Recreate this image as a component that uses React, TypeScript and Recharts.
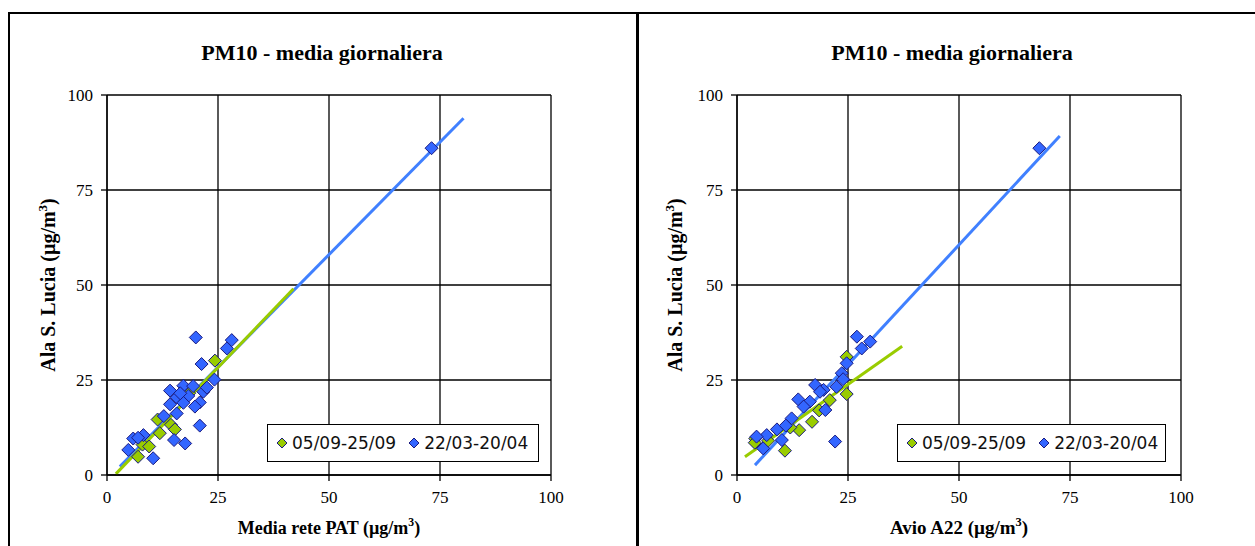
import React from 'react';
import { ScatterChart, Scatter, XAxis, YAxis, CartesianGrid, ReferenceLine, Legend, Label } from 'recharts';

const axisTicks = [0, 25, 50, 75, 100];
const seriesNames = ['05/09-25/09', '22/03-20/04'];
const chartTitle = 'PM10 - media giornaliera';
const yTitle = 'Ala S. Lucia (µg/m';
const leftXTitle = 'Media rete PAT (µg/m';
const rightXTitle = 'Avio A22 (µg/m';

// Left chart: Media rete PAT vs Ala S. Lucia
const patSep: [number, number][] = [
  [24.3, 30.1], [11.4, 14.6], [14.4, 13.2], [15.3, 12.0], [11.9, 11.0],
  [7.0, 4.8], [8.0, 8.0], [18.5, 21.5], [9.5, 7.5],
];
const patMar: [number, number][] = [
  [73.1, 86.0], [20.0, 36.2], [28.1, 35.5], [27.0, 33.3], [21.3, 29.2],
  [24.2, 25.1], [14.2, 22.2], [17.2, 23.5], [19.4, 23.4], [21.7, 21.9],
  [15.7, 20.4], [18.3, 20.8], [20.9, 19.1], [14.2, 18.6], [19.8, 18.0],
  [17.2, 19.0], [15.7, 16.2], [20.9, 13.0], [15.1, 9.2], [17.6, 8.3],
  [10.4, 4.4], [5.9, 9.6], [4.8, 6.6], [8.2, 10.5], [7.0, 9.8],
  [12.8, 15.5], [22.5, 23.0], [16.5, 21.5],
];
const patSepTrend: [number, number][] = [[2.0, 0.3], [42.0, 49.0]];
const patMarTrend: [number, number][] = [[2.9, 2.2], [80.3, 93.9]];

// Right chart: Avio A22 vs Ala S. Lucia
const avioSep: [number, number][] = [
  [24.7, 31.1], [24.7, 21.3], [20.9, 19.7], [16.9, 14.0], [14.0, 11.8],
  [10.8, 6.4], [4.1, 9.6], [4.0, 8.5], [18.5, 17.0], [12.0, 12.5], [7.0, 9.0],
];
const avioMar: [number, number][] = [
  [68.1, 86.0], [27.0, 36.4], [30.0, 35.1], [28.1, 33.3], [24.7, 29.4],
  [23.6, 26.8], [23.9, 25.2], [22.4, 23.2], [17.6, 23.7], [19.5, 22.4],
  [18.7, 21.9], [13.8, 19.9], [16.4, 19.3], [19.9, 17.1], [12.3, 14.9],
  [22.1, 8.8], [10.1, 9.2], [6.7, 10.5], [4.4, 10.1], [5.9, 7.0],
  [15.0, 18.0], [9.0, 12.0], [11.0, 13.0],
];
const avioSepTrend: [number, number][] = [[1.8, 4.8], [37.2, 33.9]];
const avioMarTrend: [number, number][] = [[4.05, 2.6], [72.7, 89.2]];

const GREEN = '#99CC00';
const BLUE = '#3366FF';
const LINE_BLUE = '#4080FF';
const SERIF = '"Liberation Serif", "Times New Roman", serif';

const toPts = (a: [number, number][]) => a.map(([x, y]) => ({ x, y }));

const Diamond = (props: any) => {
  const { cx, cy, fill } = props;
  if (cx == null || cy == null) return null;
  const r = 6.5;
  return (
    <path
      d={`M${cx},${cy - r}L${cx + r},${cy}L${cx},${cy + r}L${cx - r},${cy}Z`}
      fill={fill}
      stroke="#1a1a80"
      strokeWidth={1}
    />
  );
};

const LegendIcon = ({ color }: { color: string }) => (
  <svg width={12} height={12} style={{ display: 'block' }}>
    <path d="M6,1L11,6L6,11L1,6Z" fill={color} stroke="#1a1a80" strokeWidth={1} />
  </svg>
);

const LegendBox = () => (
  <div
    style={{
      boxSizing: 'border-box',
      width: '100%',
      height: '100%',
      border: '1.5px solid #000',
      background: '#fff',
      display: 'flex',
      alignItems: 'center',
      paddingLeft: 8,
      fontFamily: '"DejaVu Sans", sans-serif',
      fontSize: 17,
      color: '#111',
      whiteSpace: 'nowrap',
    }}
  >
    <LegendIcon color={GREEN} />
    <span style={{ marginLeft: 4, marginRight: 12 }}>{seriesNames[0]}</span>
    <LegendIcon color={BLUE} />
    <span style={{ marginLeft: 4 }}>{seriesNames[1]}</span>
  </div>
);

const XTitle = (text: string, size: number) => (props: any) => {
  const vb = props.viewBox || {};
  const cx = vb.x + vb.width / 2;
  return (
    <text x={cx} y={vb.y + 59} textAnchor="middle" fontFamily={SERIF} fontWeight="bold" fontSize={size} fill="#000">
      {text}
      <tspan fontSize={size * 0.65} dy={-8}>3</tspan>
      <tspan dy={8}>)</tspan>
    </text>
  );
};

const YTitle = (x: number) => (props: any) => {
  const vb = props.viewBox || {};
  const cy = vb.y + vb.height / 2;
  return (
    <text
      x={x}
      y={cy}
      transform={`rotate(-90, ${x}, ${cy})`}
      textAnchor="middle"
      fontFamily={SERIF}
      fontWeight="bold"
      fontSize={20}
      fill="#000"
    >
      {yTitle}
      <tspan fontSize={13} dy={-8}>3</tspan>
      <tspan dy={8}>)</tspan>
    </text>
  );
};

type PanelProps = {
  width: number;
  marginLeft: number;
  marginRight: number;
  sep: [number, number][];
  mar: [number, number][];
  sepTrend: [number, number][];
  marTrend: [number, number][];
  xTitle: string;
  xTitleSize: number;
  yTitleX: number;
  legendLeft: number;
  legendWidth: number;
};

const Panel = (p: PanelProps) => (
  <ScatterChart
    width={p.width}
    height={546}
    margin={{ top: 95, right: p.marginRight, bottom: 41, left: p.marginLeft }}
    style={{ fontFamily: SERIF }}
  >
    <CartesianGrid stroke="#000" strokeWidth={1.3} />
    <XAxis
      type="number"
      dataKey="x"
      domain={[0, 100]}
      ticks={axisTicks}
      height={30}
      tickSize={6}
      tickMargin={10}
      stroke="#000"
      strokeWidth={1.3}
      tick={{ fill: '#000', fontSize: 17, fontFamily: SERIF }}
      allowDataOverflow
    >
      <Label content={XTitle(p.xTitle, p.xTitleSize)} />
    </XAxis>
    <YAxis
      type="number"
      dataKey="y"
      domain={[0, 100]}
      ticks={axisTicks}
      width={60}
      tickSize={6}
      tickMargin={8}
      stroke="#000"
      strokeWidth={1.3}
      tick={{ fill: '#000', fontSize: 17, fontFamily: SERIF }}
      allowDataOverflow
    >
      <Label content={YTitle(p.yTitleX)} />
    </YAxis>
    <Scatter name={seriesNames[0]} data={toPts(p.sep)} fill={GREEN} shape={Diamond} isAnimationActive={false} />
    <Scatter name={seriesNames[1]} data={toPts(p.mar)} fill={BLUE} shape={Diamond} isAnimationActive={false} />
    <ReferenceLine
      segment={toPts(p.marTrend) as any}
      stroke={LINE_BLUE}
      strokeWidth={3}
      ifOverflow="visible"
    />
    <ReferenceLine
      segment={toPts(p.sepTrend) as any}
      stroke={GREEN}
      strokeWidth={3}
      ifOverflow="visible"
    />
    <Legend
      verticalAlign="middle"
      layout="horizontal"
      align="center"
      content={<LegendBox />}
      wrapperStyle={{ position: 'absolute', left: p.legendLeft, top: 424, width: p.legendWidth, height: 38 }}
    />
  </ScatterChart>
);

const Title = ({ left, width }: { left: number; width: number }) => (
  <div
    style={{
      position: 'absolute',
      left,
      top: 40,
      width,
      textAlign: 'center',
      fontFamily: SERIF,
      fontWeight: 'bold',
      fontSize: 22,
      lineHeight: '26px',
      color: '#000',
    }}
  >
    {chartTitle}
  </div>
);

export default function App() {
  return (
    <div style={{ position: 'absolute', left: 0, top: 0, width: 1255, height: 546, overflow: 'hidden', background: '#fff' }}>
      <div style={{ position: 'absolute', left: 8, top: 12, width: 1260, height: 600, borderTop: '2px solid #000', borderLeft: '2px solid #000' }} />
      <div style={{ position: 'absolute', left: 636, top: 12, width: 3, height: 600, background: '#000' }} />
      <div style={{ position: 'absolute', left: 0, top: 0 }}>
        <Panel
          width={637}
          marginLeft={47}
          marginRight={86}
          sep={patSep}
          mar={patMar}
          sepTrend={patSepTrend}
          marTrend={patMarTrend}
          xTitle={leftXTitle}
          xTitleSize={18}
          yTitleX={55}
          legendLeft={267}
          legendWidth={272}
        />
      </div>
      <div style={{ position: 'absolute', left: 637, top: 0 }}>
        <Panel
          width={618}
          marginLeft={40}
          marginRight={74}
          sep={avioSep}
          mar={avioMar}
          sepTrend={avioSepTrend}
          marTrend={avioMarTrend}
          xTitle={rightXTitle}
          xTitleSize={19}
          yTitleX={45}
          legendLeft={260}
          legendWidth={269}
        />
      </div>
      <Title left={107} width={430} />
      <Title left={737} width={430} />
    </div>
  );
}
